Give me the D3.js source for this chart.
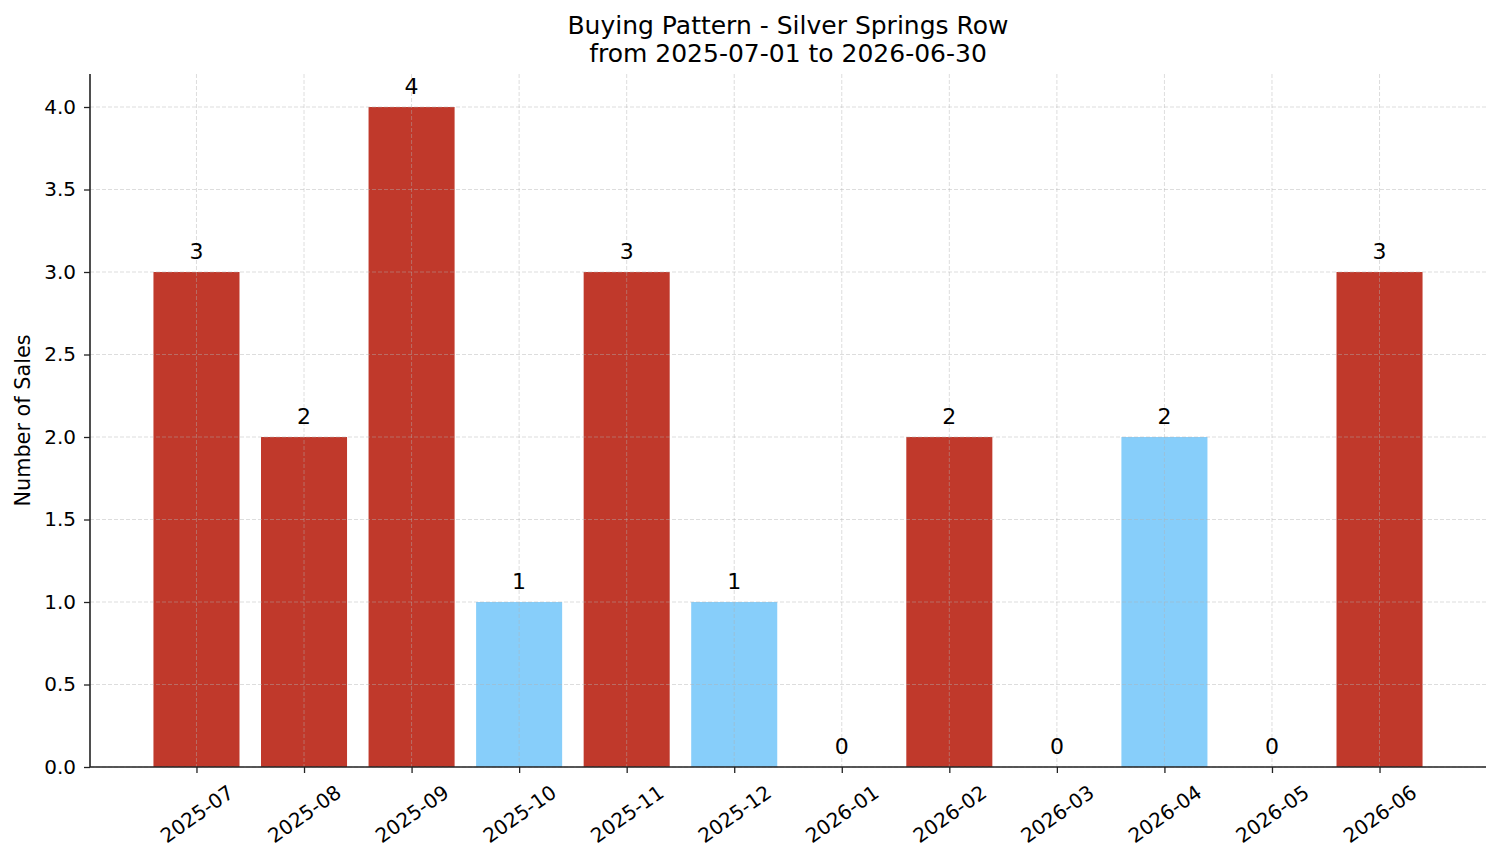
<!DOCTYPE html>
<html>
<head>
<meta charset="utf-8">
<script src="https://cdn.jsdelivr.net/npm/d3@7"></script>
<style>
  body { margin: 0; background: #fff; }
  svg { font-family: "DejaVu Sans", sans-serif; }
</style>
</head>
<body>
<svg width="1501" height="863"></svg>
<script>
// monthly sales data
const months = ['2025-07', '2025-08', '2025-09', '2025-10', '2025-11', '2025-12',
                '2026-01', '2026-02', '2026-03', '2026-04', '2026-05', '2026-06'];
const sales = [3, 2, 4, 1, 3, 1, 0, 2, 0, 2, 0, 3];
// red = above average month, blue = below
const highlight = [true, true, true, false, true, false, false, true, false, false, false, true];
const yTicks = [0, 0.5, 1, 1.5, 2, 2.5, 3, 3.5, 4];

const svg = d3.select('svg');
const plotL = 90, plotR = 1486, plotT = 74, plotB = 767;

const x = d3.scaleLinear().domain([-0.99, months.length - 0.01]).range([plotL, plotR]);
const y = d3.scaleLinear().domain([0, 4.2]).range([plotB, plotT]);
const barW = x(0.8) - x(0);

// bars first, grid drawn over them like matplotlib
svg.selectAll('rect.bar').data(sales)
    .join('rect')
    .attr('class', 'bar')
    .attr('x', (d, i) => x(i) - barW / 2)
    .attr('y', d => y(d))
    .attr('width', barW)
    .attr('height', d => y(0) - y(d))
    .attr('fill', (d, i) => highlight[i] ? '#c0392b' : '#87cefa');

// grid
svg.append('g').selectAll('line').data(yTicks)
    .join('line')
    .attr('x1', plotL).attr('x2', plotR)
    .attr('y1', d => y(d)).attr('y2', d => y(d))
    .attr('stroke', '#b0b0b0').attr('stroke-opacity', 0.55)
    .attr('stroke-width', 0.8).attr('stroke-dasharray', '4,2');
svg.append('g').selectAll('line').data(months)
    .join('line')
    .attr('x1', (d, i) => x(i)).attr('x2', (d, i) => x(i))
    .attr('y1', plotT).attr('y2', plotB)
    .attr('stroke', '#b0b0b0').attr('stroke-opacity', 0.55)
    .attr('stroke-width', 0.8).attr('stroke-dasharray', '4,2');

// bar value labels
svg.selectAll('text.val').data(sales)
    .join('text')
    .attr('class', 'val')
    .attr('x', (d, i) => x(i))
    .attr('y', d => y(d) - 13)
    .attr('text-anchor', 'middle')
    .style('font-size', '22px')
    .style('fill', '#000')
    .text(d => d);

// y axis
const yAxis = svg.append('g')
    .attr('transform', `translate(${plotL},0)`)
    .call(d3.axisLeft(y).tickValues(yTicks).tickFormat(d3.format('.1f')).tickSizeOuter(0).tickSize(6).tickPadding(8));
yAxis.select('.domain').remove();
yAxis.attr('font-family', null);
yAxis.selectAll('.tick line').attr('stroke', '#222').attr('stroke-width', 1.3);
yAxis.selectAll('.tick text').style('font-size', '20px').style('fill', '#000');

// x ticks
const xAxis = svg.append('g')
    .attr('transform', `translate(0,${plotB})`)
    .call(d3.axisBottom(x).tickValues(d3.range(months.length)).tickFormat(i => months[i]).tickSizeOuter(0).tickSize(6));
xAxis.select('.domain').remove();
xAxis.attr('font-family', null);
xAxis.selectAll('.tick line').attr('stroke', '#222').attr('stroke-width', 1.3);
xAxis.selectAll('.tick text')
    .style('font-size', '20px').style('fill', '#000')
    .attr('y', null).attr('dy', null)
    .attr('text-anchor', 'middle')
    .attr('dominant-baseline', 'central')
    .attr('transform', 'translate(0,47) rotate(-35)');

// spines
svg.append('line').attr('x1', plotL).attr('x2', plotL).attr('y1', plotT).attr('y2', plotB)
    .attr('stroke', '#222').attr('stroke-width', 1.6);
svg.append('line').attr('x1', plotL).attr('x2', plotR).attr('y1', plotB).attr('y2', plotB)
    .attr('stroke', '#222').attr('stroke-width', 1.6);

// y label
svg.append('text')
    .attr('transform', `translate(30,${(plotT + plotB) / 2}) rotate(-90)`)
    .attr('text-anchor', 'middle')
    .style('font-size', '20.8px')
    .text('Number of Sales');

// title
svg.append('text').attr('x', (plotL + plotR) / 2).attr('y', 34)
    .attr('text-anchor', 'middle').style('font-size', '25px')
    .text('Buying Pattern - Silver Springs Row');
svg.append('text').attr('x', (plotL + plotR) / 2).attr('y', 62)
    .attr('text-anchor', 'middle').style('font-size', '25px')
    .text('from 2025-07-01 to 2026-06-30');
</script>
</body>
</html>
